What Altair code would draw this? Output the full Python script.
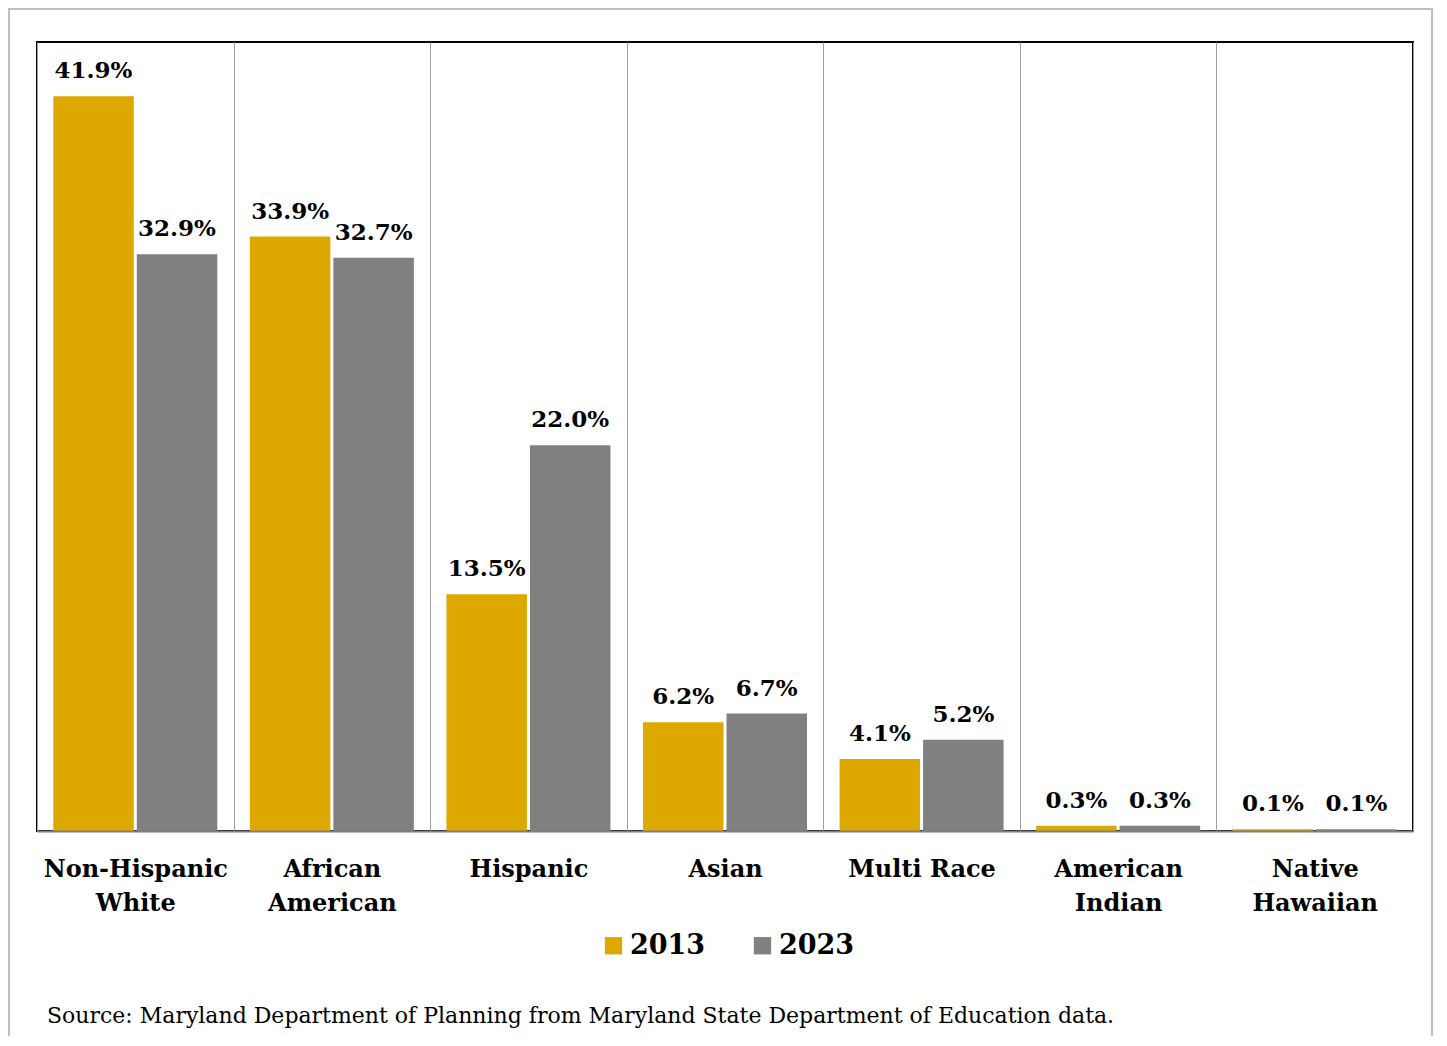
import altair as alt
import pandas as pd

categories = ["Non-Hispanic White", "African American", "Hispanic", "Asian",
              "Multi Race", "American Indian", "Native Hawaiian"]
years = ["2013", "2023"]
v2013 = [41.9, 33.9, 13.5, 6.2, 4.1, 0.3, 0.1]
v2023 = [32.9, 32.7, 22.0, 6.7, 5.2, 0.3, 0.1]
colors = ["#DDA800", "#808080"]
source_text = "Source: Maryland Department of Planning from Maryland State Department of Education data."

rows = []
for c, a, b in zip(categories, v2013, v2023):
    rows.append({"cat": c, "year": years[0], "value": a})
    rows.append({"cat": c, "year": years[1], "value": b})
df = pd.DataFrame(rows)
df["label"] = df["value"].map(lambda v: f"{v:.1f}%")

FONT = "DejaVu Serif"
W, H = 1376, 789

x_enc = alt.X("cat:N", sort=categories, title=None,
              scale=alt.Scale(paddingInner=0, paddingOuter=0),
              axis=alt.Axis(labelAngle=0, ticks=False, domainColor="#7f7f7f", domainWidth=2,
                            grid=True, gridColor="#a0a0a0", gridWidth=1, tickBand="extent",
                            labelFont=FONT, labelFontSize=24, labelFontWeight="bold",
                            labelColor="#000000", labelPadding=26, labelLineHeight=34,
                            labelBaseline="top", labelLimit=400, labelOverlap=False,
                            zindex=1,
                            labelExpr="datum.label == 'Multi Race' || datum.label == 'Hispanic' || datum.label == 'Asian' ? datum.label : split(datum.label, ' ')"))
xo_scale = alt.Scale(paddingInner=0.036, paddingOuter=0.195)
y_enc = alt.Y("value:Q", scale=alt.Scale(domain=[0, 45], nice=False, zero=True), axis=None)

base = alt.Chart(df)

bars = base.mark_bar().encode(
    x=x_enc, xOffset=alt.XOffset("year:N", sort=years, scale=xo_scale), y=y_enc,
    color=alt.Color("year:N", sort=years,
                    scale=alt.Scale(domain=years, range=colors),
                    legend=alt.Legend(title=None, orient="none", direction="horizontal",
                                      legendX=563, legendY=890, symbolType="square",
                                      symbolSize=300, symbolStrokeWidth=0,
                                      labelFont=FONT, labelFontSize=27, labelFontWeight="bold",
                                      labelColor="#000000", labelOffset=3, columnPadding=43))
)

labels = base.mark_text(font=FONT, fontSize=23, fontWeight="bold", color="#000000",
                        baseline="alphabetic", dy=-18).encode(
    x=alt.X("cat:N", sort=categories),
    xOffset=alt.XOffset("year:N", sort=years, scale=xo_scale),
    y="value:Q", text="label:N")

one = pd.DataFrame({"t": [source_text]})

frame = alt.Chart(one).mark_rect(fill=None, stroke="#000000", strokeWidth=2).encode(
    x=alt.value(0), x2=alt.value(W), y=alt.value(0), y2=alt.value(H))

outer = alt.Chart(one).mark_rect(fill=None, stroke="#bfbfbf", strokeWidth=2).encode(
    x=alt.value(-28), x2=alt.value(1395), y=alt.value(-33), y2=alt.value(1200))

source = alt.Chart(one).mark_text(font=FONT, fontSize=22, color="#000000", align="left",
                                  baseline="alphabetic").encode(
    x=alt.value(10), y=alt.value(981), text="t:N")

chart = alt.layer(outer, frame, bars, labels, source).properties(
    width=W, height=H,
    autosize=alt.AutoSizeParams(type="none"),
    padding={"left": 29, "top": 34, "right": 20, "bottom": 205},
).configure_view(stroke=None).configure(background="white")

chart.save("out.html", embed_options={"renderer": "svg", "actions": False})
